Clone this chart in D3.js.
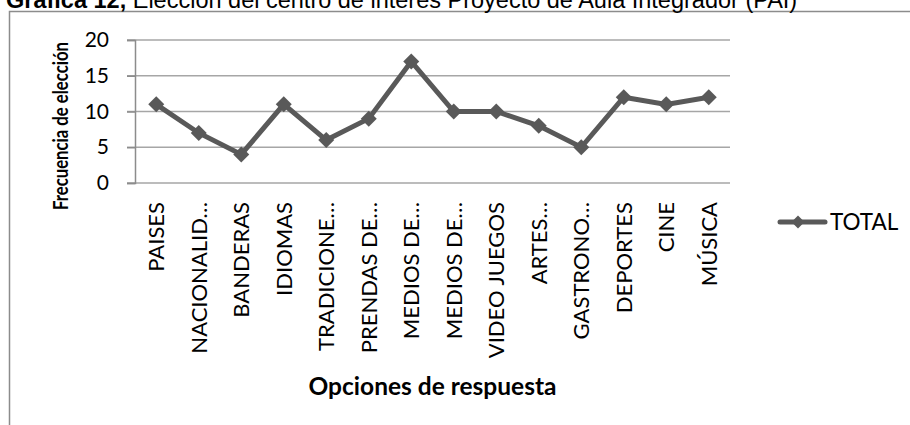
<!DOCTYPE html>
<html>
<head>
<meta charset="utf-8">
<script src="https://cdn.jsdelivr.net/npm/d3@7"></script>
<style>
  body { margin: 0; background: #fff; }
  text { font-family: Lato, "Open Sans", sans-serif; fill: #000; }
</style>
</head>
<body>
<div id="chart"></div>
<script>
var width = 910,
    height = 425;

var categories = ["PAISES", "NACIONALID…", "BANDERAS", "IDIOMAS", "TRADICIONE…", "PRENDAS DE…",
  "MEDIOS DE…", "MEDIOS DE…", "VIDEO JUEGOS", "ARTES…", "GASTRONO…", "DEPORTES", "CINE", "MÚSICA"];
var totals = [11, 7, 4, 11, 6, 9, 17, 10, 10, 8, 5, 12, 11, 12];
var yTicks = [0, 5, 10, 15, 20];
var seriesName = "TOTAL";

var plot = {left: 135, right: 730, top: 40, bottom: 183};
var lineColour = "#595959";

var svg = d3.select("#chart").append("svg")
    .attr("width", width)
    .attr("height", height);

svg.append("rect")
    .attr("width", width).attr("height", height)
    .attr("fill", "#fff");

// outer chart border (runs past the picture's right and bottom edges)
svg.append("rect")
    .attr("x", 9.5).attr("y", 11.5)
    .attr("width", 1000).attr("height", 500)
    .attr("fill", "none")
    .attr("stroke", "#8c8c8c")
    .attr("stroke-width", 1.5);

// caption, cut off at the top like the source
var title = svg.append("text")
    .attr("x", 6).attr("y", 7.5)
    .style("font-family", "'Liberation Sans', Arial, sans-serif")
    .style("font-size", "23.5px");
title.append("tspan").style("font-weight", "bold").text("Gráfica 12,");
title.append("tspan").text(" Elección del centro de interés Proyecto de Aula Integrador (PAI)");

var x = d3.scaleBand()
    .domain(d3.range(categories.length))
    .range([plot.left, plot.right]);

var y = d3.scaleLinear()
    .domain([0, 20])
    .range([plot.bottom, plot.top]);

// gridlines
svg.append("g").selectAll("line")
    .data(yTicks)
    .enter().append("line")
    .attr("x1", plot.left - 8)
    .attr("x2", plot.right)
    .attr("y1", function(d) { return y(d); })
    .attr("y2", function(d) { return y(d); })
    .attr("stroke", "#a6a6a6")
    .attr("stroke-width", 1.5);

// y axis
var yAxis = svg.append("g")
    .attr("transform", "translate(" + plot.left + ",0)")
    .call(d3.axisLeft(y).tickValues(yTicks).tickSize(8).tickPadding(18));
yAxis.select(".domain").attr("stroke", "#8c8c8c").attr("stroke-width", 1.5);
yAxis.selectAll(".tick line").attr("stroke", "#8c8c8c").attr("stroke-width", 1.5);
yAxis.selectAll(".tick text")
    .style("font-family", "Lato, sans-serif")
    .style("font-size", "21px")
    .attr("fill", "#000");

// category labels
svg.append("g").selectAll("text")
    .data(categories)
    .enter().append("text")
    .attr("transform", function(d, i) {
      return "translate(" + (x(i) + x.bandwidth() / 2 + 8) + ",202) rotate(-90)";
    })
    .attr("text-anchor", "end")
    .style("font-size", "22px")
    .text(function(d) { return d; });

// axis titles
svg.append("text")
    .attr("transform", "translate(68,126) rotate(-90)")
    .attr("text-anchor", "middle")
    .attr("textLength", 168)
    .attr("lengthAdjust", "spacingAndGlyphs")
    .style("font-weight", "bold")
    .style("font-size", "20px")
    .text("Frecuencia de elección");

svg.append("text")
    .attr("x", (plot.left + plot.right) / 2)
    .attr("y", 395)
    .attr("text-anchor", "middle")
    .style("font-weight", "bold")
    .style("font-size", "24.5px")
    .text("Opciones de respuesta");

// series line
var line = d3.line()
    .x(function(d, i) { return x(i) + x.bandwidth() / 2; })
    .y(function(d) { return y(d); });

svg.append("path")
    .datum(totals)
    .attr("d", line)
    .attr("fill", "none")
    .attr("stroke", lineColour)
    .attr("stroke-width", 5)
    .attr("stroke-linejoin", "miter");

function diamond(r) {
  return "M0," + (-r) + "L" + r + ",0L0," + r + "L" + (-r) + ",0Z";
}

svg.append("g").selectAll("path")
    .data(totals)
    .enter().append("path")
    .attr("transform", function(d, i) {
      return "translate(" + (x(i) + x.bandwidth() / 2) + "," + y(d) + ")";
    })
    .attr("d", diamond(8))
    .attr("fill", lineColour);

// legend
var legend = svg.append("g").attr("transform", "translate(780,222)");
legend.append("line")
    .attr("x1", 0).attr("x2", 45)
    .attr("stroke", lineColour)
    .attr("stroke-width", 5)
    .attr("stroke-linecap", "round");
legend.append("path")
    .attr("transform", "translate(18,0)")
    .attr("d", diamond(6.5))
    .attr("fill", lineColour);
legend.append("text")
    .attr("x", 50).attr("y", 8)
    .style("font-size", "22.5px")
    .text(seriesName);
</script>
</body>
</html>
